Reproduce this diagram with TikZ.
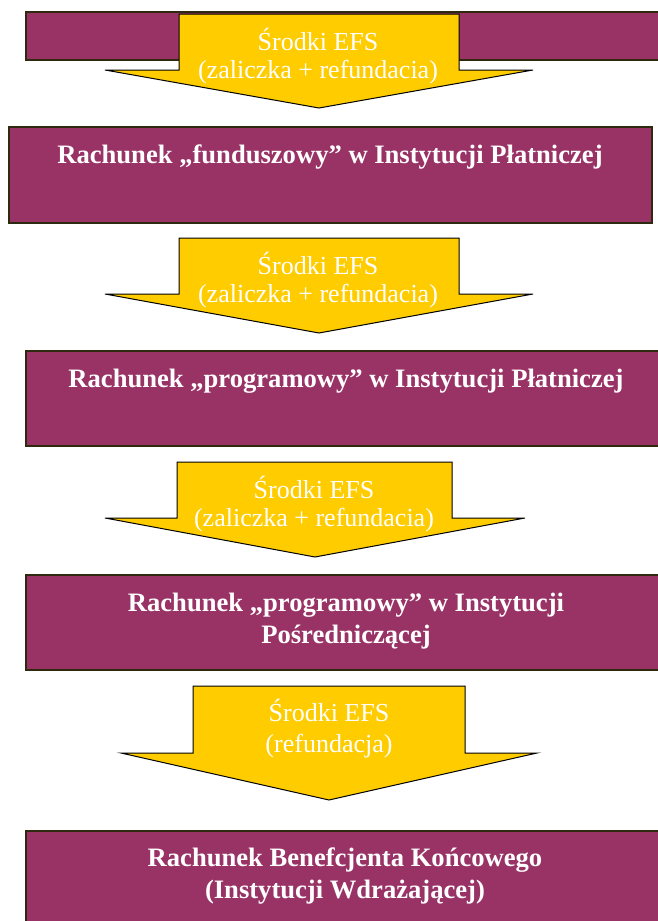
\documentclass[tikz,border=0pt]{standalone}
\usepackage{fontspec}
\setmainfont{Liberation Serif}
\definecolor{plum}{HTML}{993366}
\definecolor{gold}{HTML}{FFCC00}
\definecolor{edgecol}{HTML}{2E2A10}
\begin{document}
\begin{tikzpicture}[x=1pt,y=-1pt,
  acct/.style={draw=edgecol, line width=1.5pt, fill=plum, anchor=north west, inner sep=0},
  flow/.style={draw=black, line width=1pt, fill=gold, line join=miter},
  acctlabel/.style={text=white, font=\bfseries\fontsize{26.6}{31.5}\selectfont, align=center, inner sep=0, anchor=base},
  flowlabel/.style={text=white, font=\fontsize{26}{28}\selectfont, align=center, inner sep=0, anchor=base}]
\useasboundingbox (0,0) rectangle (658,921);
\clip (0,0) rectangle (658,921);

% accounts
\node[acct, minimum width=660, minimum height=48] (b1) at (25,11) {};
\node[acct, minimum width=643, minimum height=96] (b2) at (8,126) {};
\node[acct, minimum width=660, minimum height=95] (b3) at (25,350) {};
\node[acct, minimum width=660, minimum height=95] (b4) at (25,574) {};
\node[acct, minimum width=660, minimum height=110] (b5) at (25,830) {};

% flows
\draw[flow] (179,14) -- (179,70) -- (105,70) -- (319,108) -- (533,70) -- (459,70) -- (459,14) -- cycle;
\draw[flow] (179,238) -- (179,294) -- (105,294) -- (319,333) -- (533,294) -- (459,294) -- (459,238) -- cycle;
\draw[flow] (177,462) -- (177,518) -- (105,518) -- (315,557) -- (525,518) -- (452,518) -- (452,462) -- cycle;
\draw[flow] (193,686) -- (193,753) -- (121,753) -- (329,800) -- (537,753) -- (465,753) -- (465,686) -- cycle;

% flow labels (y = baseline of last line)
\node[flowlabel] (f1) at (318,78) {Środki EFS\\(zaliczka + refundacia)};
\node[flowlabel] (f2) at (318,302) {Środki EFS\\(zaliczka + refundacia)};
\node[flowlabel] (f3) at (314,526) {Środki EFS\\(zaliczka + refundacia)};
\node[flowlabel, font=\fontsize{26}{31}\selectfont] (f4) at (329,752) {Środki EFS\\(refundacja)};

% account labels (y = baseline of last line)
\node[acctlabel] (t2) at (330,163) {Rachunek „funduszowy” w Instytucji Płatniczej};
\node[acctlabel] (t3) at (346,387) {Rachunek „programowy” w Instytucji Płatniczej};
\node[acctlabel] (t4) at (346,643) {Rachunek „programowy” w Instytucji\\Pośredniczącej};
\node[acctlabel] (t5) at (345,898) {Rachunek Benefcjenta Końcowego\\(Instytucji Wdrażającej)};
\end{tikzpicture}
\end{document}
